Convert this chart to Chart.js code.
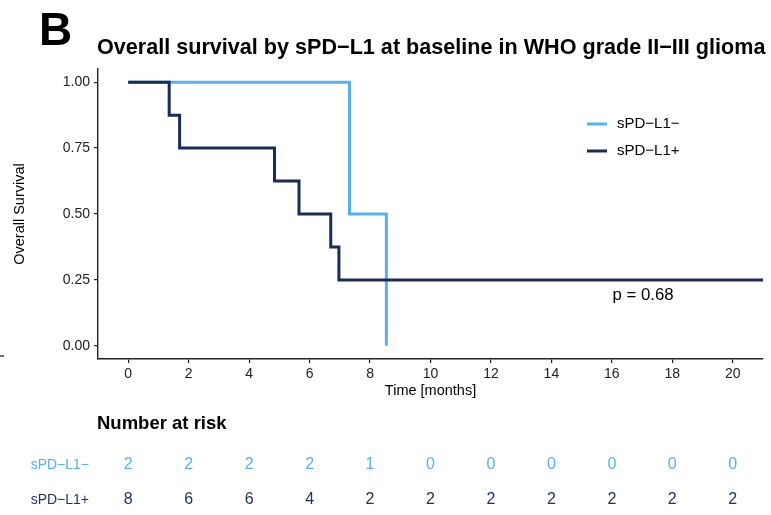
<!DOCTYPE html>
<html>
<head>
<meta charset="utf-8">
<script src="https://cdn.jsdelivr.net/npm/chart.js@4/dist/chart.umd.min.js"></script>
<style>
  html, body { margin: 0; padding: 0; background: #ffffff; }
  #wrap { width: 771px; height: 515px; }
</style>
</head>
<body>
<div id="wrap"><canvas id="c" width="771" height="515"></canvas></div>
<script>
// ---- data ----
const seriesNames = ["sPD\u2212L1\u2212", "sPD\u2212L1+"];
const negTimes = [0, 7.32, 8.54];
const negSurv  = [1, 0.5, 0];
const posTimes = [0, 1.355, 1.70, 4.84, 5.65, 6.70, 6.97, 21];
const posSurv  = [1, 0.875, 0.75, 0.625, 0.5, 0.375, 0.25, 0.25];
const xTicks = [0, 2, 4, 6, 8, 10, 12, 14, 16, 18, 20];
const yTicks = [0, 0.25, 0.5, 0.75, 1];
const riskTimes = [0, 2, 4, 6, 8, 10, 12, 14, 16, 18, 20];
const riskNeg = [2, 2, 2, 2, 1, 0, 0, 0, 0, 0, 0];
const riskPos = [8, 6, 6, 4, 2, 2, 2, 2, 2, 2, 2];
const pText = "p = 0.68";
const pPos = [17.03, 0.19];

const LIGHT = "#58B3E4";
const DARK = "#1C2A56";
const FONT = "'Liberation Sans', Arial, Helvetica, sans-serif";

const toPts = (xs, ys) => xs.map((x, i) => ({ x: x, y: ys[i] }));

const textPlugin = {
  id: "textPlugin",
  afterDraw(chart) {
    const ctx = chart.ctx;
    const xs = chart.scales.x, ys = chart.scales.y;
    const ca = chart.chartArea;
    ctx.save();
    ctx.fillStyle = "#000";
    // panel letter
    ctx.font = "bold 46px " + FONT;
    ctx.textAlign = "left"; ctx.textBaseline = "alphabetic";
    ctx.fillText("B", 39, 45);
    // title
    ctx.font = "bold 21.6px " + FONT;
    ctx.fillText("Overall survival by sPD\u2212L1 at baseline in WHO grade II\u2212III glioma", 97, 54);
    // small stray mark at left edge
    ctx.strokeStyle = "#222"; ctx.lineWidth = 1.3;
    ctx.beginPath(); ctx.moveTo(0, 356); ctx.lineTo(4, 356); ctx.stroke();
    // y title
    ctx.font = "14.5px " + FONT;
    ctx.save();
    ctx.translate(20, (ca.top + ca.bottom) / 2);
    ctx.rotate(-Math.PI / 2);
    ctx.textAlign = "center"; ctx.textBaseline = "middle";
    ctx.fillText("Overall Survival", 0, 0);
    ctx.restore();
    // x title
    ctx.textAlign = "center"; ctx.textBaseline = "middle";
    ctx.fillText("Time [months]", (ca.left + ca.right) / 2, 391);
    // legend
    const legY = [124, 151];
    const legCol = [LIGHT, DARK];
    ctx.font = "15px " + FONT;
    for (let i = 0; i < 2; i++) {
      ctx.strokeStyle = legCol[i]; ctx.lineWidth = 3; ctx.lineCap = "butt";
      ctx.beginPath(); ctx.moveTo(587, legY[i]); ctx.lineTo(607, legY[i]); ctx.stroke();
      ctx.fillStyle = "#000"; ctx.textAlign = "left"; ctx.textBaseline = "middle";
      ctx.fillText(seriesNames[i], 617, legY[i]);
    }
    // p-value
    ctx.font = "16.8px " + FONT;
    ctx.textAlign = "center"; ctx.textBaseline = "middle";
    ctx.fillText(pText, xs.getPixelForValue(pPos[0]), ys.getPixelForValue(pPos[1]));
    // risk table
    ctx.font = "bold 18.5px " + FONT;
    ctx.textAlign = "left";
    ctx.fillText("Number at risk", 97, 424);
    const rows = [[riskNeg, LIGHT, 465], [riskPos, "#26315C", 500]];
    rows.forEach((r, k) => {
      ctx.fillStyle = r[1];
      ctx.font = "14px " + FONT;
      ctx.textAlign = "right";
      ctx.fillText(seriesNames[k], 89, r[2]);
      ctx.font = "16px " + FONT;
      ctx.textAlign = "center";
      r[0].forEach((v, i) => ctx.fillText(String(v), xs.getPixelForValue(riskTimes[i]), r[2]));
    });
    ctx.restore();
  }
};

new Chart(document.getElementById("c"), {
  type: "line",
  data: {
    datasets: [
      { label: seriesNames[1], data: toPts(posTimes, posSurv), borderColor: DARK, borderWidth: 3,
        stepped: true, pointRadius: 0, fill: false, borderJoinStyle: "miter", borderCapStyle: "butt" },
      { label: seriesNames[0], data: toPts(negTimes, negSurv), borderColor: LIGHT, borderWidth: 3,
        stepped: true, pointRadius: 0, fill: false, borderJoinStyle: "miter", borderCapStyle: "butt" }
    ]
  },
  options: {
    responsive: false,
    animation: false,
    layout: { padding: { left: 0, right: 8, top: 69, bottom: 106 } },
    plugins: { legend: { display: false }, tooltip: { enabled: false }, title: { display: false } },
    scales: {
      x: {
        type: "linear", min: -1, max: 21,
        afterBuildTicks: s => { s.ticks = xTicks.map(v => ({ value: v })); },
        afterFit: s => { s.height = 50; },
        grid: { drawOnChartArea: false, drawTicks: true, tickLength: 4, color: "#222", lineWidth: 1.2 },
        border: { display: true, color: "#222", width: 1.4 },
        ticks: { color: "#222", font: { family: FONT, size: 14 }, padding: 3, maxRotation: 0,
                 callback: v => String(v) }
      },
      y: {
        type: "linear", min: -0.05, max: 1.05,
        afterBuildTicks: s => { s.ticks = yTicks.map(v => ({ value: v })); },
        afterFit: s => { s.width = 98; },
        grid: { drawOnChartArea: false, drawTicks: true, tickLength: 4, color: "#222", lineWidth: 1.2 },
        border: { display: true, color: "#222", width: 1.4 },
        ticks: { color: "#222", font: { family: FONT, size: 14 }, padding: 4,
                 callback: v => Number(v).toFixed(2) }
      }
    }
  },
  plugins: [textPlugin]
});
</script>
</body>
</html>
